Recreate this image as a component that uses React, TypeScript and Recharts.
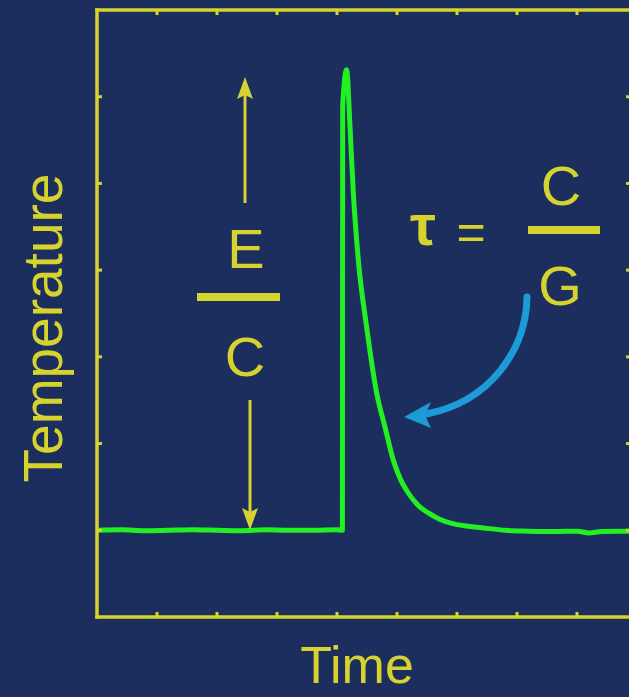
import React from "react";
import { LineChart, Line, XAxis, YAxis } from "recharts";

// pulse response: time (arb. units) vs temperature (arb. units)
const times = [
	0, 0.4, 0.8, 1.2, 1.6, 2.0, 2.4, 2.8, 3.2, 3.6, 4.0, 4.09, 4.095, 4.16, 4.217,
	4.272, 4.355, 4.495, 4.662, 4.8, 4.938, 5.05, 5.188, 5.35, 5.522, 5.7, 5.912,
	6.15, 6.412, 6.8, 7.2, 7.6, 8.0, 8.2, 8.4, 8.7, 8.9,
];
const temps = [
	1.0, 1.005, 0.995, 1.0, 1.005, 1.0, 0.995, 1.005, 1.0, 1.0, 1.005, 1.0, 5.9, 6.31,
	5.65, 4.89, 4.12, 3.34, 2.58, 2.19, 1.81, 1.6, 1.43, 1.29, 1.2, 1.13, 1.08, 1.05,
	1.03, 1.0, 0.99, 0.985, 0.99, 0.97, 0.985, 0.99, 0.99,
];
const xTicks = [1, 2, 3, 4, 5, 6, 7, 8];
const yTicks = [1, 2, 3, 4, 5, 6];

const data = times.map((t, i) => ({ t, temp: temps[i] }));

const BG = "#1b2e5d";
const YEL = "#d6d22e";
const GREEN = "#22f022";
const BLUE = "#1d9bd6";
const FONT = "'Liberation Sans', Arial, sans-serif";

// small inward tick stubs
const stub = (dir: "up" | "down" | "left" | "right") => (props: any) => {
	const { x, y } = props;
	const len = 5;
	const dx = dir === "left" ? -len : dir === "right" ? len : 0;
	const dy = dir === "up" ? -len : dir === "down" ? len : 0;
	return <line x1={x} y1={y} x2={x + dx} y2={y + dy} stroke={YEL} strokeWidth={3} />;
};

const axisLine = { stroke: YEL, strokeWidth: 3.5, strokeLinecap: "square" as const };

export default function App() {
	return (
		<div
			style={{
				position: "absolute",
				left: 0,
				top: 0,
				width: 629,
				height: 697,
				overflow: "hidden",
				background: BG,
			}}
		>
			<LineChart
				width={641}
				height={697}
				data={data}
				margin={{ top: 0, left: 77, right: 0, bottom: 60 }}
			>
				<XAxis
					xAxisId="b"
					dataKey="t"
					type="number"
					domain={[0, 8.9]}
					ticks={xTicks}
					interval={0}
					height={20}
					tickSize={0}
					tickMargin={0}
					tickLine={false}
					axisLine={axisLine}
					tick={stub("up")}
					allowDataOverflow
				/>
				<XAxis
					xAxisId="t"
					orientation="top"
					dataKey="t"
					type="number"
					domain={[0, 8.9]}
					ticks={xTicks}
					interval={0}
					height={10}
					tickSize={0}
					tickMargin={0}
					tickLine={false}
					axisLine={axisLine}
					tick={stub("down")}
					allowDataOverflow
				/>
				<YAxis
					yAxisId="l"
					type="number"
					domain={[0, 7]}
					ticks={yTicks}
					interval={0}
					width={20}
					tickSize={0}
					tickMargin={0}
					tickLine={false}
					axisLine={axisLine}
					tick={stub("right")}
					allowDataOverflow
				/>
				<YAxis
					yAxisId="r"
					orientation="right"
					type="number"
					domain={[0, 7]}
					ticks={yTicks}
					interval={0}
					width={10}
					tickSize={0}
					tickMargin={0}
					tickLine={false}
					axisLine={axisLine}
					tick={stub("left")}
					allowDataOverflow
				/>
				<Line
					xAxisId="b"
					yAxisId="l"
					type="monotone"
					dataKey="temp"
					stroke={GREEN}
					strokeWidth={5}
					strokeLinejoin="round"
					dot={false}
					isAnimationActive={false}
				/>
			</LineChart>

			{/* annotations */}
			<svg
				width={629}
				height={697}
				style={{ position: "absolute", left: 0, top: 0, pointerEvents: "none" }}
			>
				<g fill={YEL} fontFamily={FONT}>
					<text x={357} y={683} fontSize={52} textAnchor="middle">
						Time
					</text>
					<text
						x={62}
						y={328}
						fontSize={55}
						textAnchor="middle"
						transform="rotate(-90 62 328)"
					>
						Temperature
					</text>

					{/* E / C */}
					<line x1={245} y1={203} x2={245} y2={92} stroke={YEL} strokeWidth={3} />
					<polygon points="245,77 237,99 245,95 253,99" />
					<text x={246} y={268} fontSize={56} textAnchor="middle">
						E
					</text>
					<rect x={197} y={293} width={83} height={8} />
					<text x={245} y={376} fontSize={56} textAnchor="middle">
						C
					</text>
					<line x1={250} y1={400} x2={250} y2={515} stroke={YEL} strokeWidth={3} />
					<polygon points="250,530 242,508 250,512 258,508" />

					{/* tau = C / G */}
					<text x={410} y={245} fontSize={58} fontWeight="bold">
						τ
					</text>
					<text x={471} y={249} fontSize={50} textAnchor="middle">
						=
					</text>
					<text x={561} y={205} fontSize={56} textAnchor="middle">
						C
					</text>
					<rect x={528} y={226} width={72} height={8} />
					<text x={560} y={305} fontSize={56} textAnchor="middle">
						G
					</text>
				</g>

				<path
					d="M527,297 C526,350 490,402 426,414"
					fill="none"
					stroke={BLUE}
					strokeWidth={7}
					strokeLinecap="round"
				/>
				<polygon points="404,417 431,402 425,415 431,428" fill={BLUE} />
			</svg>
		</div>
	);
}
